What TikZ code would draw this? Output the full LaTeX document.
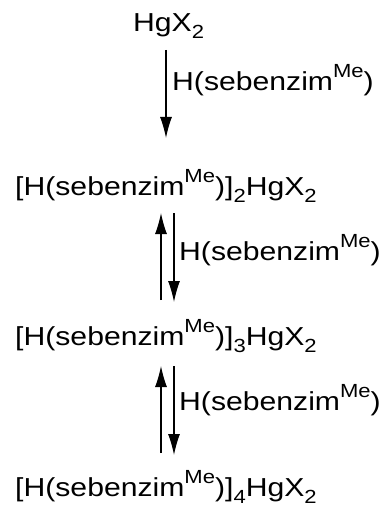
\documentclass[tikz,border=0pt]{standalone}
\usepackage{fontspec}
\setmainfont{Liberation Sans}[FakeStretch=1.16]
\usetikzlibrary{arrows.meta}
\newcommand\supMe{\raisebox{13pt}{\fontsize{19}{19}\selectfont Me}}
\newcommand\subn[1]{\raisebox{-7pt}{\fontsize{19}{19}\selectfont #1}}
\newcommand\lig{H(sebenzim\supMe)}
\tikzset{
  chem/.style={inner sep=0pt, anchor=base west, font=\fontsize{26}{26}\selectfont},
  rxn/.style={line width=1.1pt, -{Latex[length=21pt,width=12pt]}}
}
\begin{document}
\begin{tikzpicture}[x=1pt,y=-1pt]
\useasboundingbox (0,0) rectangle (382,508);
\node[chem] (a) at (133,32) {HgX\subn{2}};
\node[chem] (b) at (15,195) {[\lig]\subn{2}HgX\subn{2}};
\node[chem] (c) at (15,345) {[\lig]\subn{3}HgX\subn{2}};
\node[chem] (d) at (15,496) {[\lig]\subn{4}HgX\subn{2}};
\node[chem] (l1) at (172,91) {\lig};
\node[chem] (l2) at (179,260) {\lig};
\node[chem] (l3) at (179,410) {\lig};
\coordinate (a1s) at (166,50);
\coordinate (a1e) at (166,138);
\coordinate (u2s) at (161,300);
\coordinate (u2e) at (161,213);
\coordinate (d2s) at (174,213);
\coordinate (d2e) at (174,302);
\coordinate (u3s) at (161,453);
\coordinate (u3e) at (161,366);
\coordinate (d3s) at (174,366);
\coordinate (d3e) at (174,455);
\draw[rxn] (a1s) -- (a1e);
\draw[rxn] (u2s) -- (u2e);
\draw[rxn] (d2s) -- (d2e);
\draw[rxn] (u3s) -- (u3e);
\draw[rxn] (d3s) -- (d3e);
\end{tikzpicture}
\end{document}
